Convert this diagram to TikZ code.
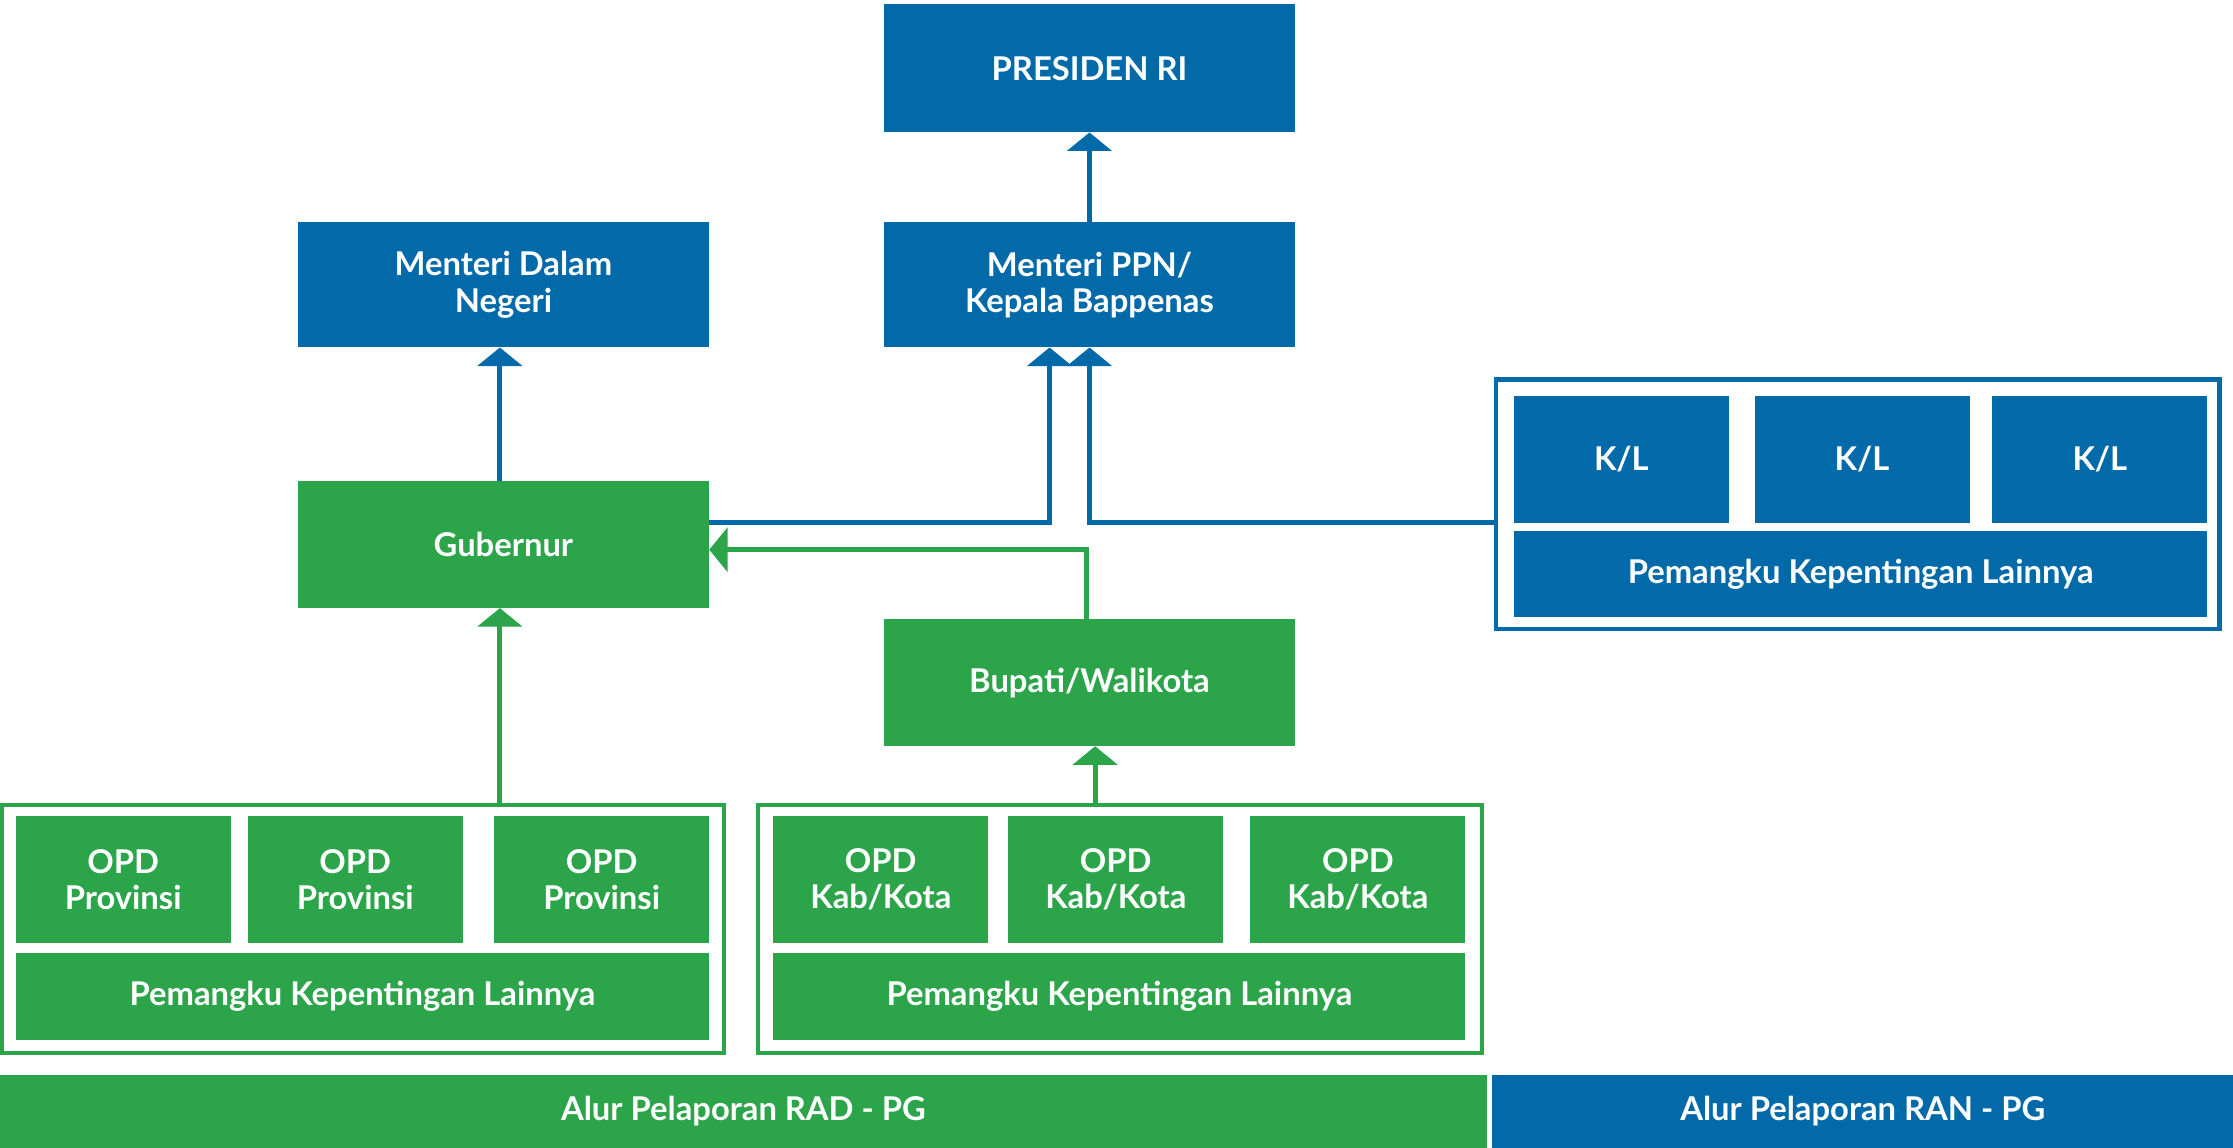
\documentclass[tikz,border=0pt]{standalone}
\usepackage{fontspec}
\setmainfont{Lato}
\usetikzlibrary{arrows.meta}
\definecolor{bpblue}{RGB}{3,106,170}
\definecolor{bpgreen}{RGB}{43,164,74}
\begin{document}
\begin{tikzpicture}[x=1pt,y=-1pt,
  lbl/.style={rectangle, inner sep=0pt, outer sep=0pt, text=white, align=center,
    font=\fontsize{23}{25.5}\selectfont\bfseries},
  bluebox/.style={lbl, fill=bpblue},
  greenbox/.style={lbl, fill=bpgreen},
  frameb/.style={rectangle, draw=bpblue, line width=3pt, inner sep=0pt},
  frameg/.style={rectangle, draw=bpgreen, line width=3pt, inner sep=0pt},
  barrow/.style={draw=bpblue, line width=3.4pt, -{Triangle[width=31pt,length=13pt]}},
  garrow/.style={draw=bpgreen, line width=3.4pt, -{Triangle[width=31pt,length=13pt]}}
]
\useasboundingbox (0,0) rectangle (1568,806);
% top level
\node[bluebox, minimum width=288pt, minimum height=90pt] (pres) at (765,48) {PRESIDEN RI};
\node[bluebox, minimum width=289pt, minimum height=88pt] (mdn) at (353.5,200) {Menteri Dalam\\Negeri};
\node[bluebox, minimum width=288pt, minimum height=88pt] (ppn) at (765,200) {Menteri PPN/\\Kepala Bappenas};
\node[greenbox, minimum width=289pt, minimum height=89pt] (gub) at (353.5,382.5) {Gubernur};
\node[greenbox, minimum width=288pt, minimum height=89pt] (bup) at (765,479.5) {Bupati/Walikota};
% K/L group
\node[frameb, minimum width=508pt, minimum height=175pt] (klbox) at (1304.5,354) {};
\node[bluebox, minimum width=151pt, minimum height=89pt] (kl1) at (1138.5,322.5) {K/L};
\node[bluebox, minimum width=151pt, minimum height=89pt] (kl2) at (1307.5,322.5) {K/L};
\node[bluebox, minimum width=151pt, minimum height=89pt] (kl3) at (1474.5,322.5) {K/L};
\node[bluebox, minimum width=487pt, minimum height=60pt] (klpk) at (1306.5,403) {Pemangku Kepentingan Lainnya};
% OPD Provinsi group
\node[frameg, minimum width=507pt, minimum height=174pt] (lopd) at (255,652.5) {};
\node[greenbox, minimum width=151pt, minimum height=89pt] (lo1) at (86.5,617.5) {OPD\\Provinsi};
\node[greenbox, minimum width=151pt, minimum height=89pt] (lo2) at (249.5,617.5) {OPD\\Provinsi};
\node[greenbox, minimum width=151pt, minimum height=89pt] (lo3) at (422.5,617.5) {OPD\\Provinsi};
\node[greenbox, minimum width=487pt, minimum height=61pt] (lopk) at (254.5,699.5) {Pemangku Kepentingan Lainnya};
% OPD Kab/Kota group
\node[frameg, minimum width=508pt, minimum height=174pt] (ropd) at (786.5,652.5) {};
\node[greenbox, minimum width=151pt, minimum height=89pt] (ro1) at (618.5,617.5) {OPD\\Kab/Kota};
\node[greenbox, minimum width=151pt, minimum height=89pt] (ro2) at (783.5,617.5) {OPD\\Kab/Kota};
\node[greenbox, minimum width=151pt, minimum height=89pt] (ro3) at (953.5,617.5) {OPD\\Kab/Kota};
\node[greenbox, minimum width=486pt, minimum height=61pt] (ropk) at (786,699.5) {Pemangku Kepentingan Lainnya};
% bottom legend bars
\node[greenbox, minimum width=1044pt, minimum height=51pt] (rad) at (522,780.5) {Alur Pelaporan RAD - PG};
\node[bluebox, minimum width=520pt, minimum height=51pt] (ran) at (1308,780.5) {Alur Pelaporan RAN - PG};
% connectors
\draw[barrow] (ppn.north) -- (pres.south);
\draw[barrow] ([xshift=-2.5pt]gub.north) -- ([xshift=-2.5pt]mdn.south);
\draw[barrow] ([yshift=15.5pt]gub.east) -| ([xshift=-28pt]ppn.south);
\draw[barrow] ([yshift=-13pt]klbox.west) -| (ppn.south);
\draw[garrow] ([xshift=-2pt]bup.north) |- ([yshift=-3.5pt]gub.east);
\draw[garrow] ([xshift=-2.5pt]gub.south |- lopd.north) -- ([xshift=-2.5pt]gub.south);
\draw[garrow] ([xshift=4pt]bup.south |- ropd.north) -- ([xshift=4pt]bup.south);
\end{tikzpicture}
\end{document}
